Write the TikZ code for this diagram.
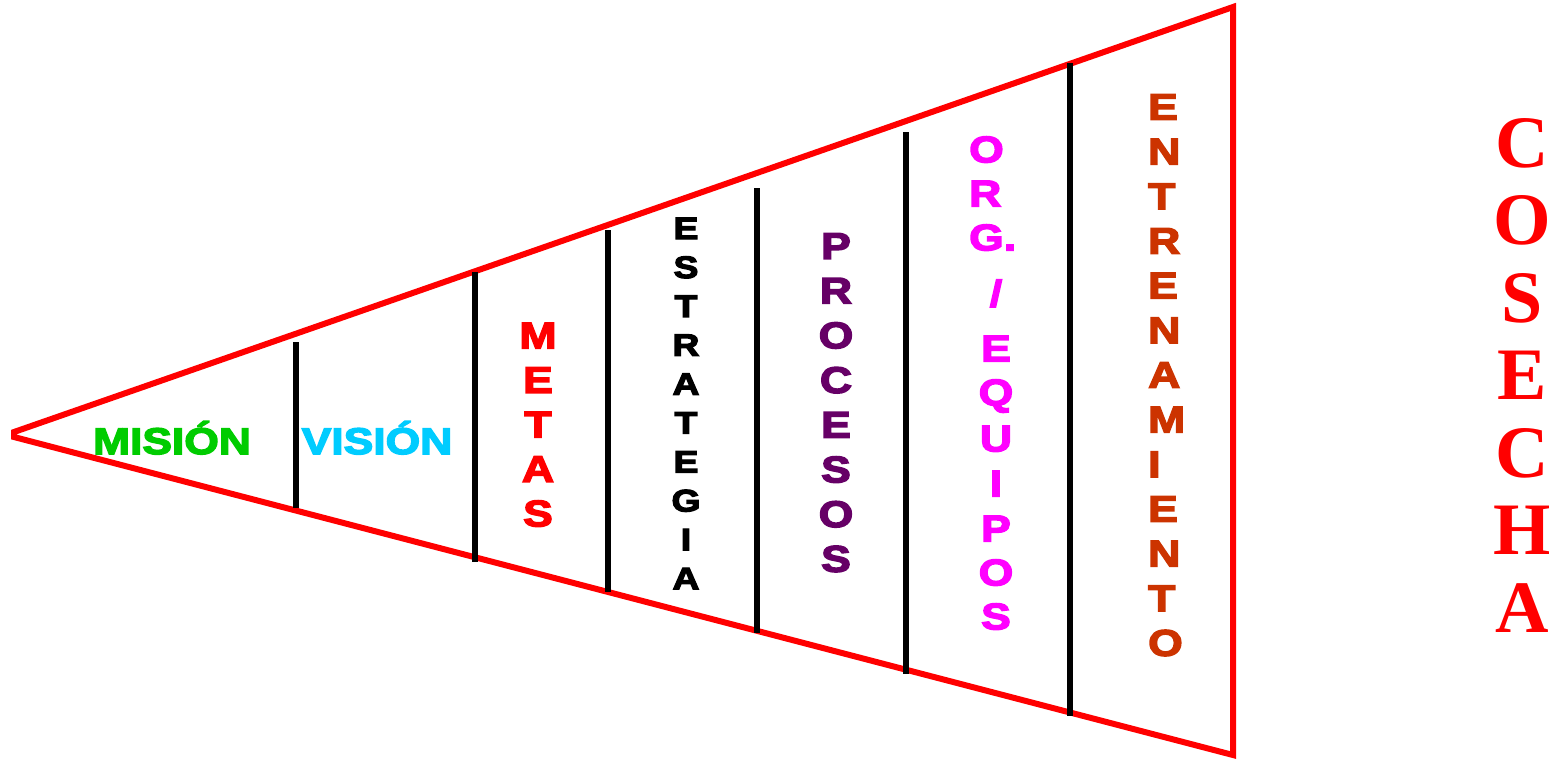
\documentclass[tikz,border=0pt]{standalone}
\usepackage{fontspec}
\newfontfamily\blk[FakeBold=4,FakeStretch=1.2]{Liberation Sans Bold}
\newfontfamily\blksmall[FakeBold=4,FakeStretch=1.2]{Liberation Sans Bold}
\newfontfamily\serifbf{Liberation Serif Bold}
\definecolor{misgreen}{HTML}{00CC00}
\definecolor{viscyan}{HTML}{00CCFF}
\definecolor{procpurple}{HTML}{660066}
\definecolor{orgmag}{HTML}{FF00FF}
\definecolor{entbrown}{HTML}{CC3300}
\begin{document}
\begin{tikzpicture}[x=1pt,y=-1pt,
  redl/.style={draw=red,line width=6pt,line join=miter},
  divider/.style={draw=black,line width=6.5pt},
  big/.style={inner sep=0pt,anchor=base,font=\blk\fontsize{37}{37}\selectfont},
  bigw/.style={inner sep=0pt,anchor=base west,font=\blk\fontsize{37}{37}\selectfont},
  small/.style={inner sep=0pt,anchor=base,font=\blksmall\fontsize{31}{31}\selectfont},
  harvest/.style={inner sep=0pt,anchor=base,text=red,font=\serifbf\fontsize{74}{74}\selectfont}]
\useasboundingbox (0,0) rectangle (1549,758);
\fill[white] (0,0) rectangle (1549,758);
% funnel outline
\draw[redl] (14,432) -- (1233,7) -- (1233,755) -- (14,437) -- cycle;
% dividers
\draw[divider] (296,342) -- (296,508);
\draw[divider] (475,272) -- (475,562);
\draw[divider] (608,230) -- (608,592);
\draw[divider] (757,188) -- (757,633);
\draw[divider] (906,132) -- (906,674);
\draw[divider] (1070,63) -- (1070,716);
% horizontal labels
\node[big,text=misgreen] (mision) at (172,454) {MISIÓN};
\node[big,text=viscyan] (vision) at (377,454) {VISIÓN};
% METAS
\foreach \l [count=\i from 0] in {M,E,T,A,S}
  \node[big,text=red] (metas-\i) at (538,348.3+44.5*\i) {\l};
% ESTRATEGIA
\foreach \l [count=\i from 0] in {E,S,T,R,A,T,E,G,I,A}
  \node[small,text=black] (estr-\i) at (686,239.1+38.9*\i) {\l};
% PROCESOS
\foreach \l [count=\i from 0] in {P,R,O,C,E,S,O,S}
  \node[big,text=procpurple] (proc-\i) at (836,258.8+44.7*\i) {\l};
% ORG. / EQUIPOS
\node[bigw,text=orgmag] (org-0) at (969,162.3) {O};
\node[bigw,text=orgmag] (org-1) at (969,206.3) {R};
\node[bigw,text=orgmag] (org-2) at (969,250.3) {G.};
\node[big,text=orgmag] (org-3) at (996,306.3) {/};
\foreach \l/\yy [count=\i from 4] in {E/348,Q/392,U/438,I/483,P/528,O/572,S/616}
  \node[big,text=orgmag] (org-\i) at (996,\yy+13.3) {\l};
% ENTRENAMIENTO
\foreach \l [count=\i from 0] in {E,N,T,R,E,N,A,M,I,E,N,T,O}
  \node[bigw,text=entbrown] (ent-\i) at (1148,119.7+44.67*\i) {\l};
% COSECHA
\foreach \l [count=\i from 0] in {C,O,S,E,C,H,A}
  \node[harvest] (cos-\i) at (1522,167+77.5*\i) {\l};
\end{tikzpicture}
\end{document}
